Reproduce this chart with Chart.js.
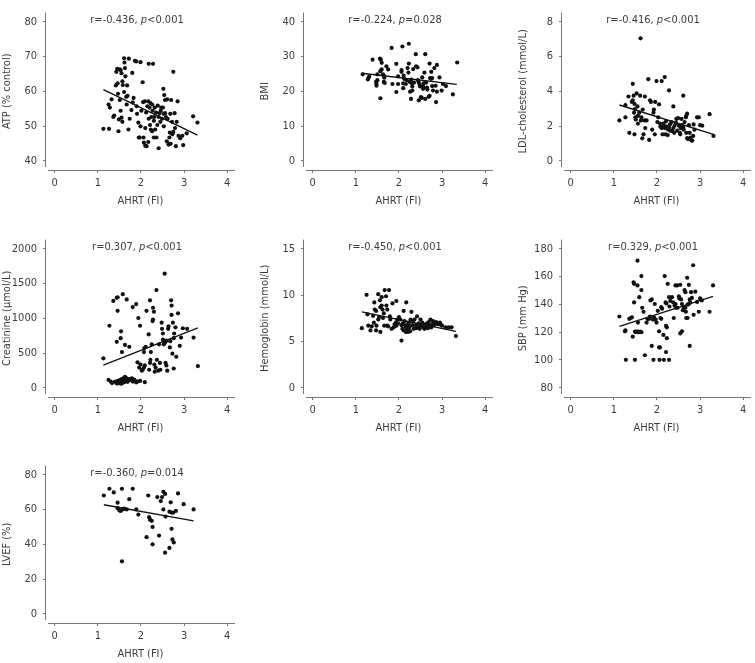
<!DOCTYPE html>
<html>
<head>
<meta charset="utf-8">
<script src="https://cdn.jsdelivr.net/npm/chart.js@4.4.0/dist/chart.umd.min.js"></script>
<style>
html, body { margin: 0; padding: 0; background: #fff; overflow: hidden; }
.panel { position: absolute; width: 239px; height: 212px; }
</style>
</head>
<body>
<div class="panel" style="left:0;top:0"><canvas id="atp" width="239" height="212"></canvas></div>
<div class="panel" style="left:258px;top:0"><canvas id="bmi" width="239" height="212"></canvas></div>
<div class="panel" style="left:516px;top:0"><canvas id="ldl" width="239" height="212"></canvas></div>
<div class="panel" style="left:0;top:227px"><canvas id="creat" width="239" height="212"></canvas></div>
<div class="panel" style="left:258px;top:227px"><canvas id="hb" width="239" height="212"></canvas></div>
<div class="panel" style="left:516px;top:227px"><canvas id="sbp" width="239" height="212"></canvas></div>
<div class="panel" style="left:0;top:453px"><canvas id="lvef" width="239" height="212"></canvas></div>
<script>
// shared x axis
var ahrtTicks = [0, 1, 2, 3, 4];
var ahrtTitle = 'AHRT (FI)';

// ATP (% control)
var atpTicks = [40, 50, 60, 70, 80];
var atpStat = ['r=-0.436, ', '<0.001'];
var atpFit = [[1.13, 60.5], [3.31, 47.4]];
var atpPoints = [
  [1.13,49.2],[1.26,49.2],[1.25,56.2],[1.28,55.3],[1.32,57.7],[1.36,52.6],[1.38,53.0],[1.42,61.7],[1.43,65.6],[1.45,66.5],
  [1.47,59.3],[1.46,62.3],[1.48,48.5],[1.49,51.9],[1.51,66.3],[1.53,66.1],[1.55,65.2],[1.51,57.5],[1.53,54.4],[1.55,52.4],
  [1.57,51.2],[1.57,62.9],[1.58,61.8],[1.61,69.5],[1.62,68.3],[1.63,66.7],[1.61,59.8],[1.64,64.3],[1.66,58.4],[1.67,56.2],
  [1.68,61.7],[1.69,58.7],[1.71,49.0],[1.72,69.4],[1.74,52.1],[1.78,54.6],[1.80,65.3],[1.81,56.8],[1.83,58.1],[1.86,68.8],
  [1.89,68.6],[1.90,55.7],[1.91,53.5],[1.94,51.0],[1.95,46.7],[1.97,46.7],[1.99,49.9],[1.99,68.4],[2.01,54.4],[2.04,62.6],
  [2.05,56.9],[2.06,46.7],[2.07,45.2],[2.09,57.1],[2.10,44.3],[2.10,49.4],[2.12,53.9],[2.13,44.2],[2.15,55.7],[2.17,45.4],
  [2.17,57.1],[2.18,67.9],[2.18,52.1],[2.20,55.3],[2.21,50.3],[2.22,56.6],[2.23,49.0],[2.24,52.6],[2.26,56.2],[2.26,48.5],
  [2.28,67.9],[2.27,54.4],[2.30,46.7],[2.30,51.5],[2.31,52.6],[2.32,55.3],[2.33,49.0],[2.35,53.9],[2.36,46.7],[2.38,50.3],
  [2.39,55.9],[2.41,43.6],[2.41,52.6],[2.43,53.7],[2.45,51.2],[2.46,54.4],[2.47,55.3],[2.49,52.1],[2.51,55.3],[2.52,60.7],
  [2.53,53.5],[2.53,49.9],[2.54,58.9],[2.56,57.5],[2.56,53.7],[2.58,52.6],[2.60,45.6],[2.61,57.7],[2.62,52.1],[2.64,44.7],
  [2.65,44.7],[2.66,46.7],[2.67,48.1],[2.68,53.5],[2.69,44.9],[2.70,57.5],[2.72,51.2],[2.73,47.6],[2.75,65.6],[2.75,48.3],
  [2.78,53.7],[2.79,49.4],[2.81,44.2],[2.83,51.2],[2.85,57.1],[2.87,47.2],[2.91,46.5],[2.96,47.2],[2.98,44.5],[3.06,47.9],
  [3.21,52.8],[3.31,51.0]
];

// BMI
var bmiTicks = [0, 10, 20, 30, 40];
var bmiStat = ['r=-0.224, ', '=0.028'];
var bmiFit = [[1.14, 25.2], [3.34, 22.0]];
var bmiPoints = [
  [1.16,24.9],[1.29,23.8],[1.31,24.2],[1.28,23.4],[1.39,29.1],[1.47,22.7],[1.48,22.1],[1.48,21.6],[1.50,23.2],[1.50,24.9],
  [1.56,29.4],[1.58,29.1],[1.57,18.0],[1.57,25.8],[1.60,26.3],[1.60,28.2],[1.63,24.9],[1.65,24.5],[1.66,23.9],[1.65,22.7],
  [1.67,22.4],[1.71,27.2],[1.75,26.3],[1.83,32.5],[1.85,22.1],[1.94,27.9],[1.94,19.8],[1.98,22.1],[1.98,24.3],[2.06,26.1],
  [2.06,25.6],[2.08,32.9],[2.10,22.3],[2.10,20.9],[2.12,23.6],[2.11,24.5],[2.16,22.1],[2.18,23.2],[2.20,26.7],[2.22,25.4],
  [2.23,33.7],[2.23,28.0],[2.25,22.7],[2.26,19.9],[2.28,17.8],[2.29,23.4],[2.30,22.3],[2.31,21.4],[2.31,20.2],[2.33,26.4],
  [2.35,22.5],[2.39,30.7],[2.40,27.2],[2.43,26.9],[2.44,23.2],[2.46,22.5],[2.46,17.4],[2.48,21.8],[2.49,21.4],[2.51,18.3],
  [2.53,18.1],[2.54,24.0],[2.56,21.4],[2.57,22.3],[2.56,20.7],[2.59,25.4],[2.61,30.7],[2.61,17.8],[2.63,22.5],[2.65,21.1],
  [2.66,20.5],[2.69,18.4],[2.71,18.7],[2.71,28.0],[2.72,23.8],[2.75,23.6],[2.77,23.8],[2.75,25.6],[2.77,21.5],[2.79,20.2],
  [2.82,26.7],[2.85,21.6],[2.86,16.9],[2.88,27.6],[2.88,19.9],[2.94,24.0],[2.99,20.2],[3.02,22.1],[3.09,21.5],[3.25,19.1],
  [3.35,28.3]
];

// LDL-cholesterol (mmol/L)
var ldlTicks = [0, 2, 4, 6, 8];
var ldlStat = ['r=-0.416, ', '<0.001'];
var ldlFit = [[1.13, 3.21], [3.31, 1.52]];
var ldlPoints = [
  [1.13,2.32],[1.27,2.50],[1.27,3.21],[1.34,3.70],[1.36,1.61],[1.42,3.39],[1.44,3.48],[1.44,4.43],[1.46,3.75],[1.47,2.77],
  [1.48,3.27],[1.49,2.98],[1.48,1.52],[1.50,2.50],[1.51,2.38],[1.53,3.88],[1.55,3.13],[1.56,2.59],[1.56,2.14],[1.59,2.77],
  [1.61,3.75],[1.62,7.05],[1.63,2.32],[1.64,2.50],[1.66,1.29],[1.67,2.95],[1.69,1.52],[1.71,2.32],[1.72,3.70],[1.73,1.88],
  [1.76,2.32],[1.80,4.70],[1.82,1.20],[1.84,3.48],[1.86,3.39],[1.89,1.79],[1.92,2.77],[1.93,2.95],[1.95,1.52],[1.96,3.39],
  [1.99,4.59],[2.01,2.23],[2.03,2.50],[2.05,3.25],[2.07,2.14],[2.08,1.96],[2.11,4.59],[2.11,1.88],[2.13,1.52],[2.15,2.14],
  [2.16,2.02],[2.18,4.82],[2.18,1.88],[2.20,1.52],[2.21,2.27],[2.22,1.96],[2.25,1.48],[2.26,1.79],[2.28,1.91],[2.28,4.05],
  [2.30,2.09],[2.31,1.73],[2.34,2.23],[2.36,1.70],[2.38,1.88],[2.38,3.13],[2.40,1.61],[2.41,2.02],[2.44,2.18],[2.45,2.41],
  [2.47,1.73],[2.49,2.45],[2.51,2.02],[2.53,1.61],[2.54,1.52],[2.55,1.88],[2.57,2.41],[2.58,2.05],[2.61,3.75],[2.61,1.91],
  [2.62,1.79],[2.64,2.23],[2.67,2.50],[2.68,2.59],[2.70,2.71],[2.68,1.61],[2.70,1.30],[2.72,1.25],[2.74,2.05],[2.76,1.61],
  [2.78,1.34],[2.80,1.16],[2.82,1.16],[2.84,1.43],[2.85,2.09],[2.87,1.79],[2.93,2.50],[2.97,2.50],[3.00,2.05],[3.05,2.02],
  [3.22,2.68],[3.31,1.43]
];

// Creatinine (umol/L)
var creatTicks = [0, 500, 1000, 1500, 2000];
var creatStat = ['r=0.307, ', '<0.001'];
var creatFit = [[1.13, 326], [3.32, 862]];
var creatPoints = [
  [1.13,424],[1.27,893],[1.25,112],[1.30,89],[1.33,67],[1.36,1250],[1.40,89],[1.43,67],[1.46,98],[1.48,80],
  [1.50,103],[1.52,112],[1.53,89],[1.56,125],[1.58,103],[1.59,134],[1.62,112],[1.63,156],[1.66,112],[1.67,134],
  [1.71,103],[1.73,125],[1.76,112],[1.79,134],[1.81,89],[1.84,116],[1.86,103],[1.89,76],[1.92,89],[1.98,98],
  [2.09,80],[1.45,60],[1.51,67],[1.54,58],[1.57,67],[1.61,80],[1.64,95],[1.69,85],[1.44,1295],[1.46,1303],
  [1.46,1107],[1.44,661],[1.54,812],[1.53,714],[1.56,513],[1.58,1348],[1.63,616],[1.67,1272],[1.73,589],[1.81,1161],
  [1.89,1205],[1.92,366],[1.94,1004],[1.96,290],[1.99,335],[2.02,246],[2.04,259],[2.07,290],[2.09,321],[1.98,893],
  [2.07,513],[2.08,571],[2.11,589],[2.13,1107],[2.18,768],[2.19,259],[2.21,357],[2.22,402],[2.21,1259],[2.23,513],
  [2.25,625],[2.27,960],[2.28,982],[2.28,1152],[2.30,1094],[2.31,335],[2.32,232],[2.34,290],[2.36,1406],[2.37,402],
  [2.40,246],[2.42,625],[2.44,357],[2.45,259],[2.48,937],[2.49,848],[2.51,781],[2.51,692],[2.53,625],[2.55,647],
  [2.57,661],[2.59,679],[2.55,1643],[2.57,357],[2.59,321],[2.61,246],[2.63,848],[2.64,884],[2.67,580],[2.68,670],
  [2.70,1259],[2.71,1183],[2.71,1049],[2.73,491],[2.74,937],[2.76,714],[2.77,781],[2.76,277],[2.80,870],[2.82,446],
  [2.86,1071],[2.90,603],[2.93,723],[2.97,857],[3.07,848],[3.22,723],[3.32,312]
];

// Hemoglobin (mmol/L)
var hbTicks = [0, 5, 10, 15];
var hbStat = ['r=-0.450, ', '<0.001'];
var hbFit = [[1.14, 8.20], [3.32, 6.09]];
var hbPoints = [
  [1.14,6.43],[1.25,10.04],[1.27,7.93],[1.29,6.70],[1.34,6.19],[1.37,6.63],[1.40,7.77],[1.42,7.03],[1.43,9.21],[1.44,8.44],
  [1.47,8.30],[1.47,6.19],[1.48,6.70],[1.52,10.11],[1.52,7.37],[1.54,7.63],[1.56,9.44],[1.57,8.70],[1.57,6.03],[1.60,9.78],
  [1.60,8.87],[1.62,8.44],[1.63,7.53],[1.65,8.03],[1.66,6.70],[1.67,10.55],[1.70,9.88],[1.71,8.87],[1.73,8.44],[1.73,6.70],
  [1.75,6.63],[1.77,10.55],[1.79,7.70],[1.80,7.37],[1.83,6.36],[1.85,9.11],[1.88,6.53],[1.90,6.86],[1.93,7.03],[1.94,6.70],
  [1.94,9.37],[1.96,7.37],[1.98,6.96],[2.00,7.63],[2.03,7.37],[2.06,5.09],[2.06,6.76],[2.08,6.36],[2.09,6.96],[2.11,6.19],
  [2.11,8.30],[2.13,7.20],[2.15,6.70],[2.16,6.03],[2.17,9.21],[2.17,6.53],[2.19,6.19],[2.20,6.86],[2.21,6.03],[2.23,7.03],
  [2.23,6.36],[2.25,6.63],[2.26,6.09],[2.27,7.37],[2.29,8.20],[2.31,6.76],[2.33,7.20],[2.34,6.36],[2.36,7.37],[2.39,6.76],
  [2.40,6.43],[2.42,7.70],[2.44,6.63],[2.46,6.96],[2.48,6.36],[2.50,7.37],[2.52,6.70],[2.54,7.03],[2.56,6.53],[2.57,6.86],
  [2.59,6.36],[2.61,6.76],[2.63,6.63],[2.65,6.96],[2.67,6.43],[2.69,7.10],[2.71,6.70],[2.73,7.37],[2.75,6.53],[2.77,6.86],
  [2.79,7.20],[2.81,6.76],[2.82,7.03],[2.86,7.10],[2.90,6.86],[2.92,6.96],[2.95,7.03],[2.98,6.76],[3.00,6.70],[3.08,6.53],
  [3.15,6.53],[3.22,6.53],[3.32,5.59]
];

// SBP (mm Hg)
var sbpTicks = [80, 100, 120, 140, 160, 180];
var sbpStat = ['r=0.329, ', '<0.001'];
var sbpFit = [[1.13, 124.2], [3.30, 145.8]];
var sbpPoints = [
  [1.13,131.3],[1.26,120.6],[1.27,121.3],[1.28,100.1],[1.36,129.6],[1.39,130.2],[1.42,130.7],[1.44,116.8],[1.46,155.9],[1.47,154.8],
  [1.47,141.4],[1.49,100.1],[1.49,120.5],[1.51,120.0],[1.53,120.5],[1.54,120.0],[1.56,120.5],[1.58,120.0],[1.61,120.5],[1.64,120.0],
  [1.55,171.5],[1.55,153.7],[1.56,126.9],[1.59,145.2],[1.64,160.4],[1.64,150.3],[1.66,137.6],[1.69,134.7],[1.72,103.4],[1.76,126.9],
  [1.78,129.6],[1.82,129.6],[1.84,131.3],[1.85,142.9],[1.88,143.6],[1.88,110.1],[1.91,129.1],[1.93,130.7],[1.92,100.1],[1.95,140.3],
  [1.97,129.1],[1.99,126.9],[2.02,135.4],[2.05,120.6],[2.05,109.0],[2.07,109.0],[2.06,100.1],[2.08,130.2],[2.10,129.6],[2.10,138.0],
  [2.12,136.9],[2.15,118.0],[2.16,100.1],[2.18,160.4],[2.20,141.4],[2.22,140.7],[2.21,124.6],[2.23,123.5],[2.21,105.7],[2.23,115.7],
  [2.25,154.8],[2.28,100.1],[2.28,145.2],[2.29,138.5],[2.31,142.5],[2.35,145.2],[2.38,141.4],[2.39,130.2],[2.41,139.2],[2.43,140.3],
  [2.44,137.6],[2.43,153.7],[2.47,153.7],[2.48,137.6],[2.51,145.8],[2.52,144.3],[2.54,154.1],[2.54,119.1],[2.58,120.6],[2.56,143.6],
  [2.58,140.3],[2.60,135.8],[2.62,137.6],[2.64,150.3],[2.66,148.8],[2.66,137.6],[2.67,134.7],[2.68,130.2],[2.71,130.2],[2.70,159.2],
  [2.71,139.8],[2.74,140.3],[2.74,154.1],[2.76,143.6],[2.77,141.4],[2.76,110.1],[2.79,148.8],[2.81,144.7],[2.84,168.2],[2.85,132.5],
  [2.89,149.2],[2.93,141.8],[2.97,134.7],[3.00,144.3],[3.04,142.9],[3.22,134.7],[3.30,153.7]
];

// LVEF (%)
var lvefTicks = [0, 20, 40, 60, 80];
var lvefStat = ['r=-0.360, ', '=0.014'];
var lvefFit = [[1.14, 62.8], [3.22, 53.5]];
var lvefPoints = [
  [1.14,68.1],[1.27,72.0],[1.37,69.9],[1.46,64.0],[1.46,60.8],[1.50,59.6],[1.56,72.0],[1.53,59.2],[1.58,60.1],[1.61,60.6],
  [1.56,30.2],[1.67,60.1],[1.73,66.0],[1.81,72.0],[1.89,60.1],[1.94,57.1],[2.13,44.1],[2.17,68.1],[2.19,55.6],[2.21,54.2],
  [2.25,53.5],[2.27,50.0],[2.27,40.0],[2.38,67.2],[2.42,45.0],[2.46,64.9],[2.49,67.2],[2.52,70.2],[2.56,69.0],[2.52,60.1],
  [2.57,56.0],[2.56,35.2],[2.66,58.8],[2.69,64.2],[2.66,37.9],[2.71,48.9],[2.71,58.3],[2.75,58.3],[2.73,42.8],[2.76,41.1],
  [2.81,59.2],[2.86,69.3],[2.99,63.1],[3.22,60.1]
];

var FONT = '"DejaVu Sans Condensed", "Liberation Sans", sans-serif';
var FSIZE = 11;
var TEXT = '#3d3d3d';
var AXIS = '#777';

function toXY(arr) {
  return arr.map(function(p) { return {x: p[0], y: p[1]}; });
}

// axis lines with a small gap at the corner, plus the r / p label
var panelDecor = {
  id: 'panelDecor',
  afterDraw: function(chart) {
    var a = chart.chartArea, ctx = chart.ctx;
    var stat = chart.options.plugins.panelDecor.stat;
    ctx.save();
    ctx.strokeStyle = AXIS;
    ctx.lineWidth = 1;
    ctx.beginPath();
    ctx.moveTo(Math.round(a.left) - 0.5, a.top);
    ctx.lineTo(Math.round(a.left) - 0.5, a.bottom - 3);
    ctx.moveTo(a.left + 2, Math.round(a.bottom) + 0.5);
    ctx.lineTo(a.right, Math.round(a.bottom) + 0.5);
    ctx.stroke();

    var normal = FSIZE + 'px ' + FONT, italic = 'italic ' + FSIZE + 'px ' + FONT;
    ctx.font = normal;
    var w1 = ctx.measureText(stat[0]).width;
    var w3 = ctx.measureText(stat[1]).width;
    ctx.font = italic;
    var w2 = ctx.measureText('p').width;
    var x = a.left + 91 - (w1 + w2 + w3) / 2;
    var y = a.top + 10;
    ctx.fillStyle = TEXT;
    ctx.textBaseline = 'alphabetic';
    ctx.textAlign = 'left';
    ctx.font = normal;
    ctx.fillText(stat[0], x, y);
    ctx.font = italic;
    ctx.fillText('p', x + w1, y);
    ctx.font = normal;
    ctx.fillText(stat[1], x + w1 + w2, y);
    ctx.restore();
  }
};

function makePanel(id, yTitle, yTicks, points, fit, stat) {
  var lo = yTicks[0], hi = yTicks[yTicks.length - 1];
  var pad = (hi - lo) * 0.0667;
  new Chart(document.getElementById(id), {
    type: 'scatter',
    data: {
      datasets: [{
        type: 'line',
        data: toXY(fit),
        borderColor: '#111',
        borderWidth: 1.4,
        pointRadius: 0,
        fill: false
      }, {
        data: toXY(points),
        pointRadius: 2.1,
        pointBorderWidth: 0,
        pointBackgroundColor: '#111',
        backgroundColor: '#111'
      }]
    },
    options: {
      responsive: false,
      animation: false,
      layout: {padding: {top: 2, right: 2, left: 0, bottom: 0}},
      plugins: {
        legend: {display: false},
        tooltip: {enabled: false},
        panelDecor: {stat: stat}
      },
      scales: {
        x: {
          type: 'linear',
          min: -0.2,
          max: 4.18,
          afterBuildTicks: function(s) { s.ticks = ahrtTicks.map(function(v) { return {value: v}; }); },
          afterFit: function(s) { s.height = 42; },
          border: {display: false},
          grid: {drawOnChartArea: false, drawTicks: true, tickLength: 3, color: AXIS},
          ticks: {color: TEXT, font: {family: FONT, size: FSIZE}, padding: 4, maxRotation: 0,
                  callback: function(v) { return String(v); }},
          title: {display: true, text: ahrtTitle, color: TEXT, font: {family: FONT, size: FSIZE}, padding: {top: 4, bottom: 4}}
        },
        y: {
          type: 'linear',
          min: lo - pad,
          max: hi + pad,
          afterBuildTicks: function(s) { s.ticks = yTicks.map(function(v) { return {value: v}; }); },
          afterFit: function(s) { s.width = 46; },
          border: {display: false},
          grid: {drawOnChartArea: false, drawTicks: true, tickLength: 3, color: AXIS},
          ticks: {color: TEXT, font: {family: FONT, size: FSIZE}, padding: 6,
                  callback: function(v) { return String(v); }},
          title: {display: true, text: yTitle, color: TEXT, font: {family: FONT, size: FSIZE}, padding: {top: 1, bottom: 0}}
        }
      }
    },
    plugins: [panelDecor]
  });
}

makePanel('atp', 'ATP (% control)', atpTicks, atpPoints, atpFit, atpStat);
makePanel('bmi', 'BMI', bmiTicks, bmiPoints, bmiFit, bmiStat);
makePanel('ldl', 'LDL-cholesterol (mmol/L)', ldlTicks, ldlPoints, ldlFit, ldlStat);
makePanel('creat', 'Creatinine (\u03bcmol/L)', creatTicks, creatPoints, creatFit, creatStat);
makePanel('hb', 'Hemoglobin (mmol/L)', hbTicks, hbPoints, hbFit, hbStat);
makePanel('sbp', 'SBP (mm Hg)', sbpTicks, sbpPoints, sbpFit, sbpStat);
makePanel('lvef', 'LVEF (%)', lvefTicks, lvefPoints, lvefFit, lvefStat);
</script>
</body>
</html>
